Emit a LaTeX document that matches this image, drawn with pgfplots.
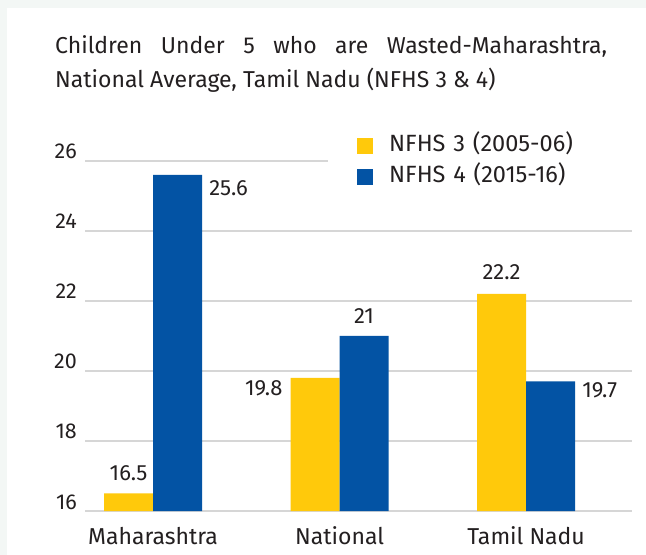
\documentclass[border=0pt]{standalone}
\usepackage{pgfplots}
\pgfplotsset{compat=1.18}
\usepackage{fontspec}
\setmainfont{Fira Sans}
\definecolor{nfhsyellow}{HTML}{FFC90B}
\definecolor{nfhsblue}{HTML}{0353A4}
\definecolor{txt}{HTML}{231F20}
\definecolor{gridc}{HTML}{D6D6D6}
\definecolor{outerbg}{HTML}{F3F7F5}
\newcommand{\fstitle}{\fontsize{23bp}{27bp}\selectfont}
\newcommand{\fsx}{\fontsize{23bp}{27bp}\selectfont}
\newcommand{\fsy}{\fontsize{21.5bp}{25bp}\selectfont}
\newcommand{\fsd}{\fontsize{22bp}{26bp}\selectfont}
\newcommand{\fsl}{\fontsize{23.5bp}{27bp}\selectfont}
\begin{document}
\begin{tikzpicture}
\fill[outerbg] (0bp,0bp) rectangle (646bp,555bp);
\fill[white] (7bp,0bp) rectangle (646bp,547bp);
\node[anchor=base west, inner sep=0pt, text=txt, font=\fstitle] at (55bp,501.5bp) {\makebox[552bp][s]{Children Under 5 who are Wasted-Maharashtra,}};
\node[anchor=base west, inner sep=0pt, text=txt, font=\fstitle] at (55bp,467bp) {National Average, Tamil Nadu (NFHS 3 \& 4)};
\begin{axis}[
  at={(85bp,44bp)}, anchor=south west,
  scale only axis, width=547bp, height=350bp,
  ymin=16, ymax=26, xmin=-0.365, xmax=2.568,
  ytick={16,18,20,22,24,26},
  xtick={0,1,2}, xticklabels={Maharashtra,National,Tamil Nadu},
  axis line style={draw=none},
  major tick length=0pt,
  ymajorgrids, grid style={gridc, line width=1.1bp},
  ybar, bar width=49bp,
  clip=false,
  ticklabel style={text=txt, inner sep=0pt},
  yticklabel style={font=\fsy, anchor=base east, xshift=-8bp, yshift=2bp},
  xticklabel style={font=\fsx, anchor=base, yshift=-33bp},
  /pgf/number format/assume math mode=true,
  legend style={at={(0.4442,1.0857)}, anchor=north west, draw=none, fill=white,
    inner xsep=29bp, inner ysep=4bp, font=\fsl, text=txt,
    nodes={inner sep=0pt, text height=16bp, text depth=5bp, text width=216bp},
    column sep=16bp, row sep=10bp},
  legend cell align=left,
  legend image code/.code={\fill[#1,draw=none] (0bp,-8bp) rectangle (16bp,8bp);},
]
\addplot[fill=nfhsyellow, draw=none, bar shift=-24.5bp] coordinates {(0,16.5) (1,19.8) (2,22.2)};
\addlegendentry{\fsl NFHS 3 (2005-06)}
\addplot[fill=nfhsblue, draw=none, bar shift=24.5bp] coordinates {(0,25.6) (1,21) (2,19.7)};
\addlegendentry{\fsl NFHS 4 (2015-16)}
\node[anchor=south, inner sep=0pt, font=\fsd, text=txt, xshift=-24.5bp, yshift=13bp] at (axis cs:0,16.5) {16.5};
\node[anchor=north west, inner sep=0pt, font=\fsd, text=txt, xshift=56bp, yshift=-5bp] at (axis cs:0,25.6) {25.6};
\node[anchor=north east, inner sep=0pt, font=\fsd, text=txt, xshift=-57bp, yshift=-2bp] at (axis cs:1,19.8) {19.8};
\node[anchor=south, inner sep=0pt, font=\fsd, text=txt, xshift=24.5bp, yshift=12bp] at (axis cs:1,21) {21};
\node[anchor=south, inner sep=0pt, font=\fsd, text=txt, xshift=-24.5bp, yshift=14bp] at (axis cs:2,22.2) {22.2};
\node[anchor=north west, inner sep=0pt, font=\fsd, text=txt, xshift=56bp, yshift=-1bp] at (axis cs:2,19.7) {19.7};
\end{axis}
\pgfresetboundingbox
\path (0bp,0bp) rectangle (646bp,555bp);
\end{tikzpicture}
\end{document}
